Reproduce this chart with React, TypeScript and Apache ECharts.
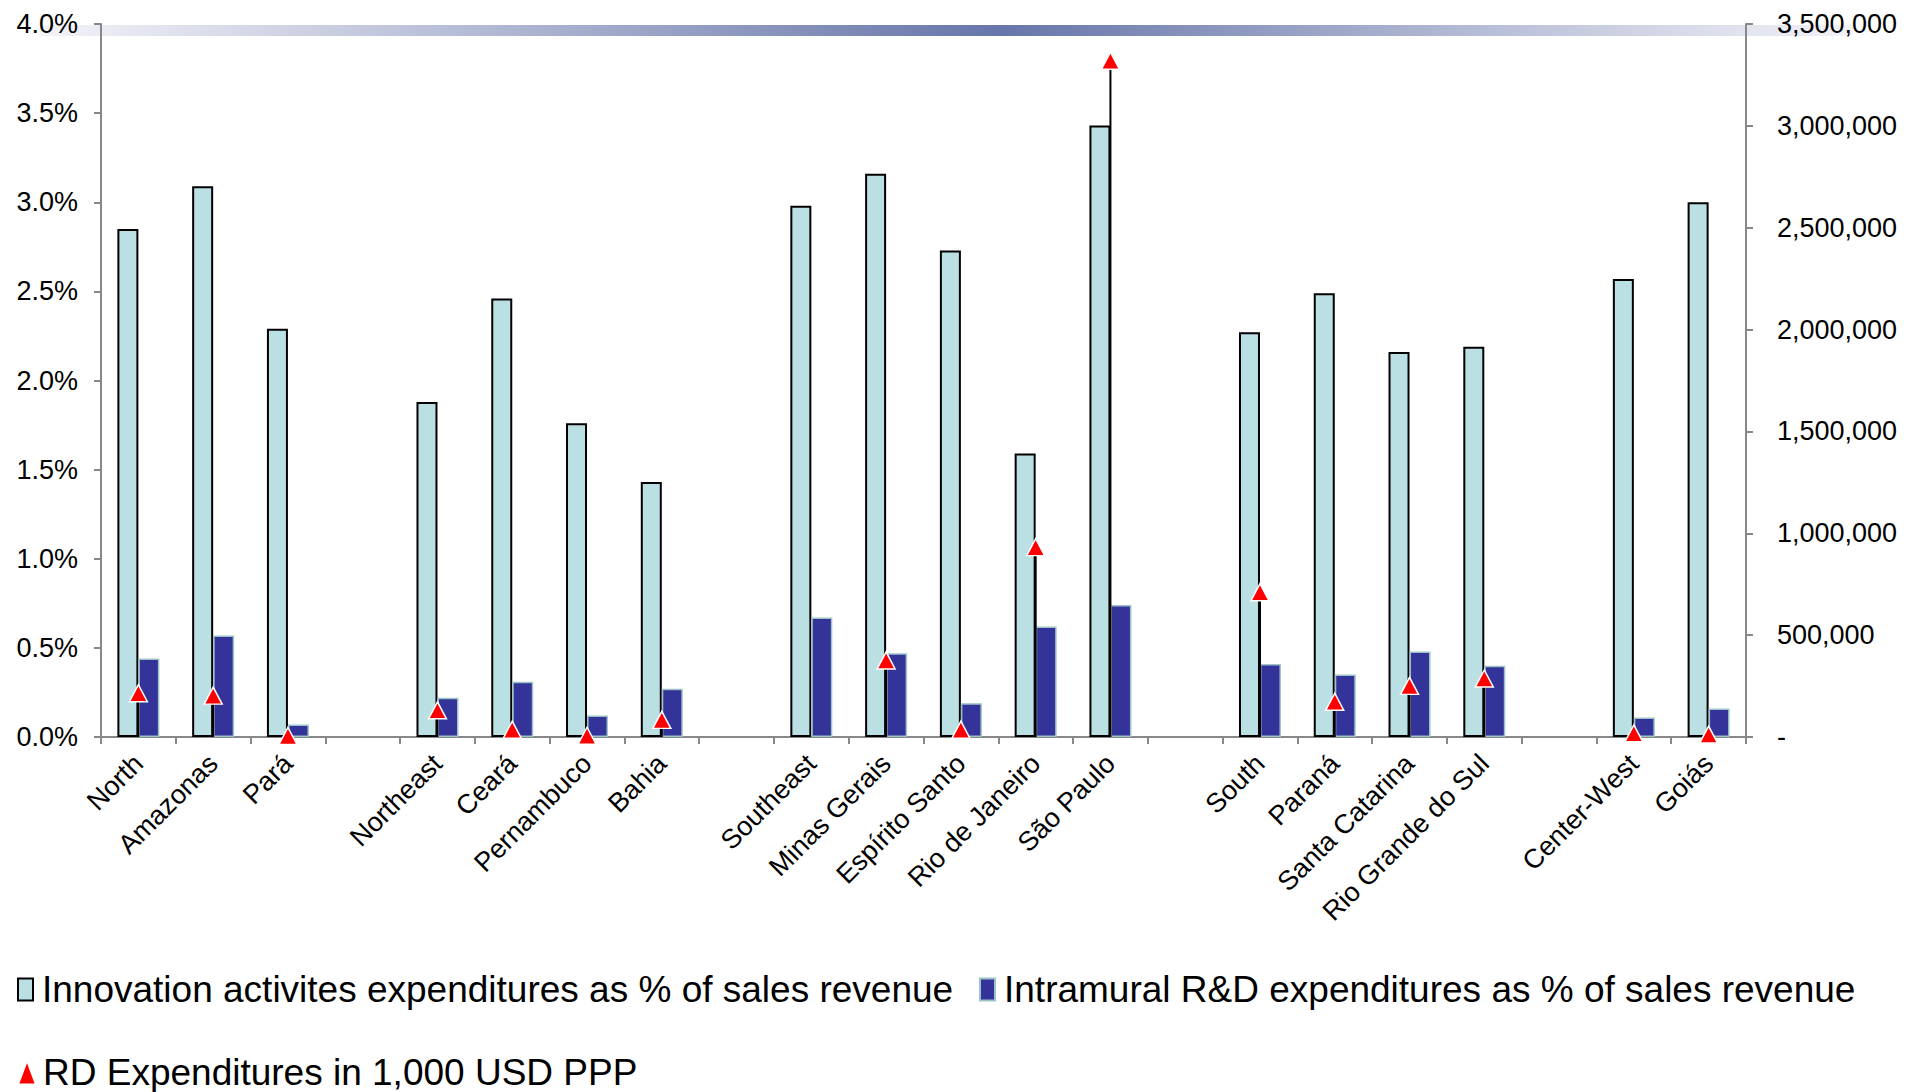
import React, { useEffect, useRef } from "react";
import * as echarts from "echarts";

const categories = [
  "North", "Amazonas", "Pará", " ",
  "Northeast", "Ceará", "Pernambuco", "Bahia", "  ",
  "Southeast", "Minas Gerais", "Espírito Santo", "Rio de Janeiro", "São Paulo", "   ",
  "South", "Paraná", "Santa Catarina", "Rio Grande do Sul", "    ",
  "Center-West", "Goiás",
];

const innovationPct = [
  2.85, 3.09, 2.29, null,
  1.88, 2.46, 1.76, 1.43, null,
  2.98, 3.16, 2.73, 1.59, 3.43, null,
  2.27, 2.49, 2.16, 2.19, null,
  2.57, 3.0,
];

const intramuralPct = [
  0.44, 0.57, 0.07, null,
  0.22, 0.31, 0.12, 0.27, null,
  0.67, 0.47, 0.19, 0.62, 0.74, null,
  0.41, 0.35, 0.48, 0.4, null,
  0.11, 0.16,
];

const rdExpenditures = [
  215000, 203000, 5000, null,
  131000, 36000, 6000, 84000, null,
  null, 376000, 36000, 932000, 3320000, null,
  711000, 173000, 251000, 287000, null,
  18000, 12000,
];

const leftTicks = { min: 0, max: 4, interval: 0.5 };
const rightTicks = { min: 0, max: 3500000, interval: 500000 };

const S1 = "Innovation activites expenditures as % of sales revenue";
const S2 = "Intramural R&D expenditures as % of sales revenue";
const S3 = "RD Expenditures in 1,000 USD PPP";

const FONT = "'Liberation Sans', Arial, sans-serif";

export default function App() {
  const ref = useRef<HTMLDivElement>(null);

  useEffect(() => {
    document.body.style.margin = "0";
    document.body.style.overflow = "hidden";
    if (!ref.current) return;
    const chart = echarts.init(ref.current, undefined, { renderer: "svg" });

    const dropData = rdExpenditures
      .map((v, i) => (v == null ? null : [i, v]))
      .filter((d) => d !== null);

    const legendText = { fontSize: 37, color: "#000", fontFamily: FONT, padding: [0, 0, 0, 4] };

    chart.setOption({
      animation: false,
      backgroundColor: "#fff",
      textStyle: { fontFamily: FONT },
      graphic: [
        {
          type: "rect",
          z: -10,
          shape: { x: 40, y: 25, width: 1813, height: 11 },
          style: {
            fill: new echarts.graphic.LinearGradient(0, 0, 1, 0, [
              { offset: 0, color: "#f3f3f8" },
              { offset: 0.53, color: "#6776aa" },
              { offset: 1, color: "#f3f3f8" },
            ]),
          },
        },
      ],
      grid: { left: 101, right: 161, top: 24, bottom: 355, containLabel: false },
      legend: [
        {
          data: [S1],
          left: 12,
          top: 966,
          icon: "rect",
          itemWidth: 15,
          itemHeight: 22,
          textStyle: legendText,
        },
        {
          data: [S2],
          left: 974,
          top: 966,
          icon: "rect",
          itemWidth: 15,
          itemHeight: 22,
          textStyle: legendText,
        },
        {
          data: [S3],
          left: 12,
          top: 1049,
          icon: "triangle",
          itemWidth: 18,
          itemHeight: 24,
          textStyle: { ...legendText, padding: [0, 0, 0, 2] },
        },
      ],
      xAxis: {
        type: "category",
        data: categories,
        boundaryGap: true,
        axisLine: { lineStyle: { color: "#888", width: 2 } },
        axisTick: { show: true, length: 7, lineStyle: { color: "#888", width: 2 } },
        axisLabel: {
          interval: 0,
          rotate: 45,
          margin: 22,
          fontSize: 27,
          color: "#000",
          fontFamily: FONT,
        },
        splitLine: { show: false },
      },
      yAxis: [
        {
          type: "value",
          min: leftTicks.min,
          max: leftTicks.max,
          interval: leftTicks.interval,
          axisLine: { show: true, lineStyle: { color: "#888", width: 2 } },
          axisTick: { show: true, length: 7, lineStyle: { color: "#888", width: 2 } },
          axisLabel: {
            margin: 23,
            fontSize: 27,
            color: "#000",
            fontFamily: FONT,
            formatter: (v: number) => v.toFixed(1) + "%",
          },
          splitLine: { show: false },
        },
        {
          type: "value",
          position: "right",
          min: rightTicks.min,
          max: rightTicks.max,
          interval: rightTicks.interval,
          axisLine: { show: true, lineStyle: { color: "#888", width: 2 } },
          axisTick: { show: true, length: 7, lineStyle: { color: "#888", width: 2 } },
          axisLabel: {
            margin: 31,
            fontSize: 27,
            color: "#000",
            fontFamily: FONT,
            align: "left",
            formatter: (v: number) => (v === 0 ? "-" : v.toLocaleString("en-US")),
          },
          splitLine: { show: false },
        },
      ],
      series: [
        {
          name: S1,
          type: "bar",
          yAxisIndex: 0,
          data: innovationPct,
          barWidth: 21,
          barGap: "0%",
          z: 2,
          itemStyle: { color: "#BBE0E3", borderColor: "#000", borderWidth: 2 },
        },
        {
          name: S2,
          type: "bar",
          yAxisIndex: 0,
          data: intramuralPct,
          barWidth: 21,
          barGap: "0%",
          z: 2,
          itemStyle: { color: "#333399", borderColor: "#9DC3C8", borderWidth: 1.5 },
        },
        {
          name: "drop",
          type: "custom",
          yAxisIndex: 1,
          z: 3,
          silent: true,
          data: dropData,
          encode: { x: 0, y: 1 },
          renderItem: (params: any, api: any) => {
            const idx = api.value(0);
            const v = api.value(1);
            const top = api.coord([idx, v]);
            const bottom = api.coord([idx, 0]);
            return {
              type: "line",
              shape: { x1: top[0], y1: top[1], x2: bottom[0], y2: bottom[1] },
              style: { stroke: "#000", lineWidth: 2 },
            };
          },
        },
        {
          name: S3,
          type: "scatter",
          yAxisIndex: 1,
          data: rdExpenditures,
          symbol: "triangle",
          symbolSize: [18, 17],
          z: 4,
          itemStyle: { color: "#FF0000", borderColor: "#fff", borderWidth: 1.5, opacity: 1 },
        },
      ],
    });

    return () => chart.dispose();
  }, []);

  return <div ref={ref} style={{ width: 1907, height: 1092 }} />;
}
